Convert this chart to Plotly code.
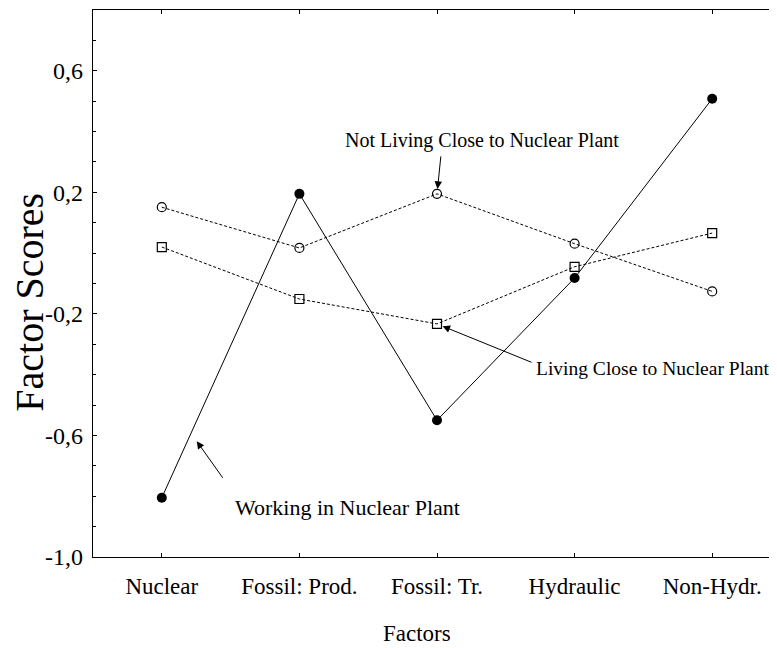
import plotly.graph_objects as go

categories = ["Nuclear", "Fossil: Prod.", "Fossil: Tr.", "Hydraulic", "Non-Hydr."]
working = [-0.805, 0.195, -0.55, -0.082, 0.508]
not_living = [0.151, 0.017, 0.195, 0.031, -0.126]
living = [0.020, -0.151, -0.233, -0.045, 0.066]

y_tickvals = [-1.0, -0.6, -0.2, 0.2, 0.6]
y_ticktext = ["-1,0", "-0,6", "-0,2", "0,2", "0,6"]

FONT = "Liberation Serif, Times New Roman, serif"

fig = go.Figure()
fig.add_trace(go.Scatter(
    x=categories, y=not_living, mode="lines+markers",
    line=dict(color="black", width=1, dash="3px,2px"),
    marker=dict(symbol="circle-open", size=9, color="black", line=dict(width=1.2)),
    showlegend=False))
fig.add_trace(go.Scatter(
    x=categories, y=living, mode="lines+markers",
    line=dict(color="black", width=1, dash="3px,2px"),
    marker=dict(symbol="square-open", size=9, color="black", line=dict(width=1.2)),
    showlegend=False))
fig.add_trace(go.Scatter(
    x=categories, y=working, mode="lines+markers",
    line=dict(color="black", width=1),
    marker=dict(symbol="circle", size=10, color="black"),
    showlegend=False))

def label(text, x, y, size, angle=0):
    return dict(text=text, xref="paper", yref="paper", x=x, y=y,
                xanchor="center", yanchor="middle", textangle=angle,
                showarrow=False, font=dict(family=FONT, size=size, color="black"))

def arrow(x, y, ax, ay, standoff):
    return dict(text="", x=x, y=y, xref="x", yref="y", ax=ax, ay=ay,
                showarrow=True, arrowhead=2, arrowsize=1.5, arrowwidth=1,
                arrowcolor="black", standoff=standoff)

annotations = [
    label("Factors", 0.4709, -0.139, 23),
    label("Factor Scores", -0.092, 0.4662, 40, -90),
    label("Not Living Close to Nuclear Plant", 0.565, 0.7623, 20),
    label("Living Close to Nuclear Plant", 0.8125, 0.3455, 19.5),
    label("Working in Nuclear Plant", 0.3699, 0.0896, 22),
    arrow(categories[2], not_living[2], 4, -39, 5),
    arrow(categories[2], living[2], 96, 39, 6),
    arrow(0.254, -0.619, 27, 38, 0),
]

fig.update_layout(
    width=777, height=648,
    margin=dict(l=85, r=4, t=2, b=99),
    paper_bgcolor="white", plot_bgcolor="white",
    font=dict(family=FONT, color="black"),
    annotations=annotations,
    xaxis=dict(
        type="category", categoryorder="array", categoryarray=categories,
        range=[-0.5, 4.5], showgrid=False, zeroline=False,
        showline=True, linecolor="black", linewidth=1.2, mirror="ticks",
        ticks="inside", ticklen=4, tickcolor="black", tickwidth=1,
        tickfont=dict(family=FONT, size=23, color="black"),
        ticklabelstandoff=8,
    ),
    yaxis=dict(
        range=[-1.0, 0.8], showgrid=False, zeroline=False,
        showline=True, linecolor="black", linewidth=1.2,
        tickvals=y_tickvals, ticktext=y_ticktext,
        ticks="inside", ticklen=4, tickcolor="black", tickwidth=1,
        minor=dict(dtick=0.1, tick0=0, ticks="inside", ticklen=3, tickcolor="black"),
        tickfont=dict(family=FONT, size=24, color="black"),
        ticklabelstandoff=4,
    ),
)

fig.write_html("out.html")
